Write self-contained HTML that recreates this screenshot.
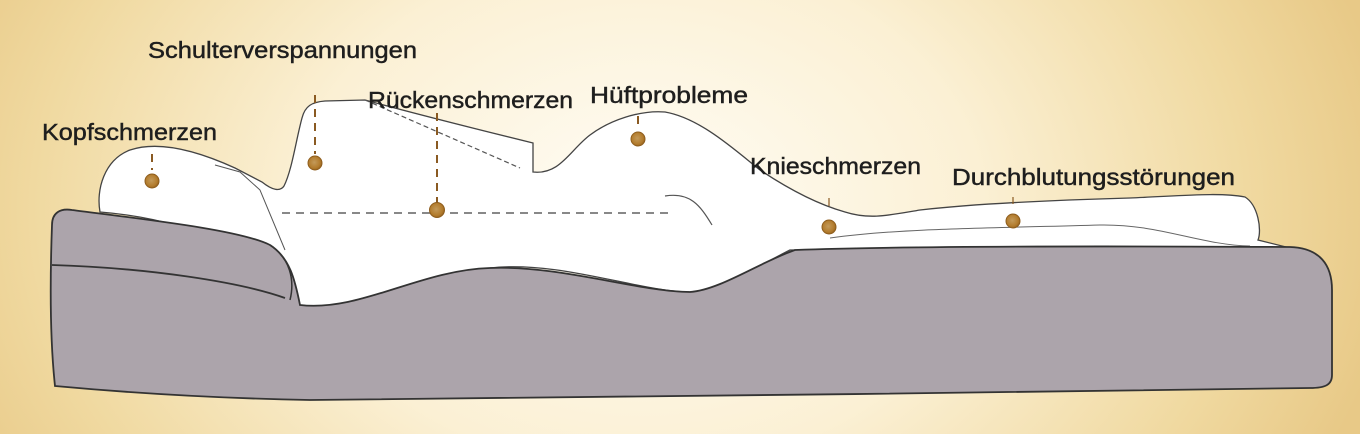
<!DOCTYPE html>
<html><head><meta charset="utf-8"><style>
html,body{margin:0;padding:0;width:1360px;height:434px;overflow:hidden}
svg{display:block}
text{font-family:"Liberation Sans",sans-serif;font-size:23px;fill:#1e1e1e;stroke:#1e1e1e;stroke-width:0.45}
</style></head><body>
<svg width="1360" height="434" viewBox="0 0 1360 434">
<defs>
<radialGradient id="bg" cx="640" cy="210" r="760" gradientUnits="userSpaceOnUse" gradientTransform="translate(640 210) scale(1 0.75) translate(-640 -210)">
<stop offset="0" stop-color="#fffdf6"/>
<stop offset="0.45" stop-color="#fbf0d4"/>
<stop offset="0.8" stop-color="#f0d9a0"/>
<stop offset="1" stop-color="#e8c987"/>
</radialGradient>
<radialGradient id="dot" cx="0.45" cy="0.45" r="0.6">
<stop offset="0" stop-color="#c39a5a"/>
<stop offset="0.7" stop-color="#b27b2c"/>
<stop offset="1" stop-color="#8e5d1d"/>
</radialGradient>
</defs>
<rect width="1360" height="434" fill="url(#bg)"/>

<!-- body -->
<path d="M100 212 C96 190 104 160 130 150 C160 140 200 152 235 168 L262 182 C272 190 280 192 284 186 C292 170 296 140 302 118 C305 106 312 102 325 101 L365 100 C420 115 480 130 533 143 L533 172 C560 175 570 150 590 135 C610 120 640 110 665 112 C700 118 735 150 760 170 C790 190 820 205 845 212 C870 220 890 215 920 210 C980 203 1060 200 1130 198 C1180 196 1220 192 1245 197 C1258 205 1262 230 1258 240 L1290 248 L790 250 C760 265 720 290 690 292 C640 292 560 260 490 268 C420 272 360 312 300 308 L290 300 C270 260 200 220 100 212 Z" fill="#fff" stroke="#444" stroke-width="1.3"/>
<path d="M365 100 L520 168" stroke="#555" stroke-width="1.2" stroke-dasharray="5 3" fill="none"/>
<path d="M665 196 C690 192 700 205 712 225" stroke="#555" stroke-width="1.2" fill="none"/>
<path d="M215 165 L240 172 L260 190 L285 250" stroke="#555" stroke-width="1" fill="none"/>
<path d="M830 238 C900 228 1000 228 1100 225 C1160 224 1200 245 1250 246" stroke="#666" stroke-width="1" fill="none"/>

<!-- mattress -->
<path d="M52 225 C52 213 60 208 72 210 C150 220 240 230 270 245 C290 258 295 280 300 305 C360 312 420 270 490 268 C560 265 640 292 690 292 C720 290 760 262 795 250 C900 246 1100 246 1290 247 C1320 248 1332 265 1332 290 L1332 375 C1332 385 1325 388 1310 388 C1000 392 600 398 310 400 C200 398 120 392 55 386 C50 340 50 280 52 225 Z" fill="#aca4ab" stroke="#333" stroke-width="1.8"/>
<path d="M52 265 C150 268 240 282 285 298" stroke="#333" stroke-width="1.8" fill="none"/>
<path d="M270 245 C290 258 295 280 290 300" stroke="#333" stroke-width="1.5" fill="none"/>

<!-- dashed guides -->
<g stroke="#8a5a22" stroke-width="2" stroke-dasharray="8 6" fill="none">
<line x1="282" y1="213" x2="668" y2="213" stroke="#777" stroke-width="1.8"/>
<line x1="437" y1="113" x2="437" y2="203"/>
<line x1="315" y1="95" x2="315" y2="154"/>
<line x1="152" y1="154" x2="152" y2="170"/>
<line x1="638" y1="116" x2="638" y2="128"/>
<line x1="829" y1="198" x2="829" y2="206" stroke-width="1.2"/>
<line x1="1013" y1="197" x2="1013" y2="204" stroke-width="1.2"/>
</g>
<g fill="url(#dot)" stroke="#8e5d1d" stroke-width="1">
<circle cx="152" cy="181" r="7"/>
<circle cx="315" cy="163" r="7"/>
<circle cx="437" cy="210" r="7.5"/>
<circle cx="638" cy="139" r="7"/>
<circle cx="829" cy="227" r="7"/>
<circle cx="1013" cy="221" r="7"/>
</g>

<text x="148" y="58" textLength="269" lengthAdjust="spacingAndGlyphs">Schulterverspannungen</text>
<text x="368" y="108" textLength="205" lengthAdjust="spacingAndGlyphs">Rückenschmerzen</text>
<text x="590" y="103" textLength="158" lengthAdjust="spacingAndGlyphs">Hüftprobleme</text>
<text x="42" y="140" textLength="175" lengthAdjust="spacingAndGlyphs">Kopfschmerzen</text>
<text x="750" y="174" textLength="171" lengthAdjust="spacingAndGlyphs">Knieschmerzen</text>
<text x="952" y="185" textLength="283" lengthAdjust="spacingAndGlyphs">Durchblutungsstörungen</text>
</svg>
</body></html>
